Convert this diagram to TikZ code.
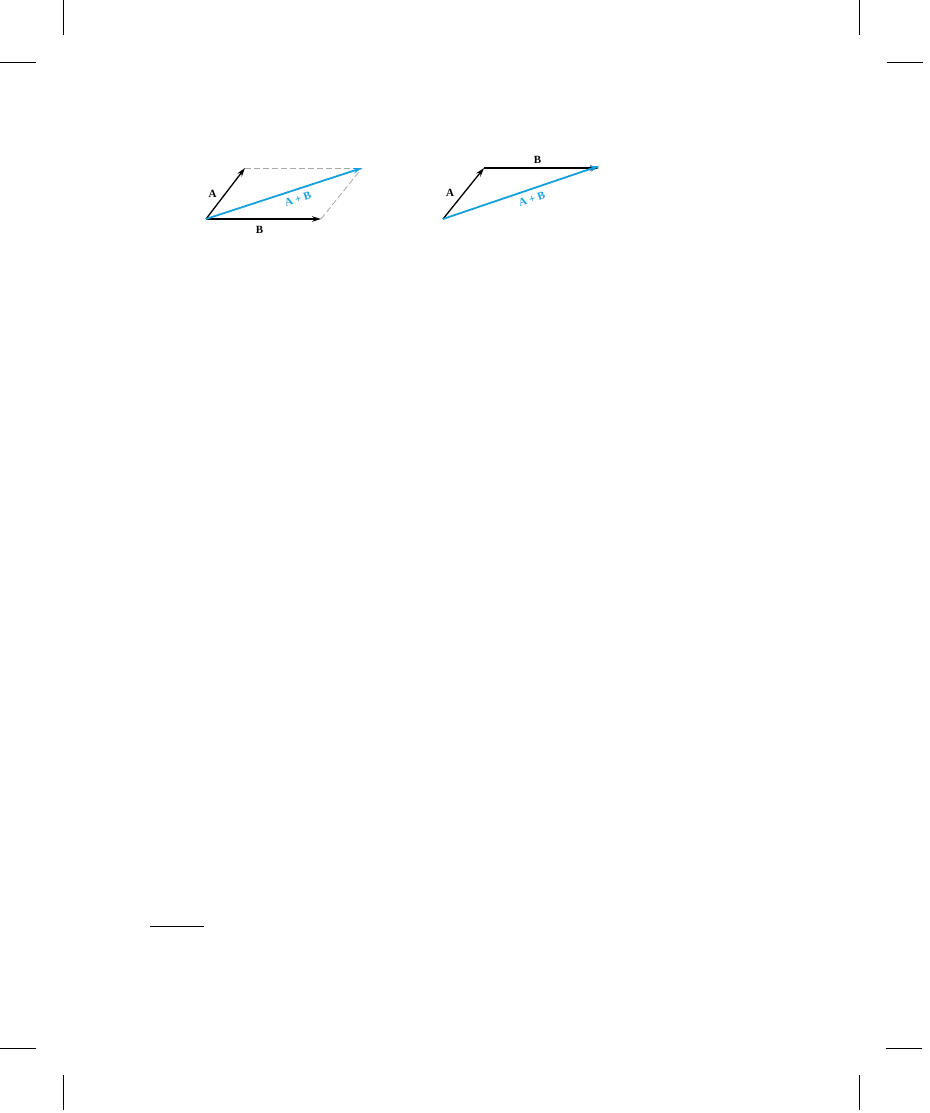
\documentclass[tikz,border=0pt]{standalone}
\usepackage{fontspec}
\setmainfont{Liberation Serif}
\usetikzlibrary{arrows.meta}

\definecolor{sumblue}{RGB}{20,160,220}

\tikzset{
  vec/.style = {line width = 1.3pt, -{Stealth[length = 9pt, width = 5.5pt]}},
  sumvec/.style = {vec, line width = 1.8pt, draw = sumblue},
  guide/.style = {draw = black!35, dash pattern = on 6pt off 3pt, line width = 0.8pt},
  lab/.style = {font = \fontsize{11}{12}\selectfont\bfseries, inner sep = 1pt},
  crop/.style = {line width = 1pt}
}

\begin{document}
\begin{tikzpicture}[x = 1pt, y = -1pt]
\useasboundingbox (0,0) rectangle (929,1113);

% crop marks
\draw[crop] (63,0) -- (63,35);
\draw[crop] (0,63) -- (36,63);
\draw[crop] (859.5,0) -- (859.5,35);
\draw[crop] (887,63) -- (923,63);
\draw[crop] (0,1048) -- (36,1048);
\draw[crop] (63,1075) -- (63,1110);
\draw[crop] (886,1048) -- (922,1048);
\draw[crop] (859.5,1075) -- (859.5,1110);

% footnote rule
\draw[crop] (150,926) -- (204,926);

% parallelogram rule
\coordinate (o1) at (206,219);
\coordinate (a1) at (245,168);
\coordinate (b1) at (321,219);
\coordinate (s1) at (362,168);

\draw[guide] (a1) -- (s1);
\draw[guide] (b1) -- (s1);
\draw[vec] (o1) -- (a1);
\draw[vec] (o1) -- (b1);
\draw[sumvec] (o1) -- (s1)
  node[lab, text = sumblue, pos = 0.57, sloped, below = 4pt] (s1lab) {A + B};

\node[lab] (a1lab) at (212.5,194) {A};
\node[lab] (b1lab) at (259.5,230) {B};

% triangle rule
\coordinate (o2) at (443,219);
\coordinate (a2) at (484,168);
\coordinate (b2) at (599,168);

\draw[vec] (o2) -- (a2);
\draw[vec, line width = 1.1pt] (a2) -- (b2);
\draw[sumvec] (o2) -- ([yshift = 2pt]b2)
  node[lab, text = sumblue, pos = 0.55, sloped, below = 4pt] (s2lab) {A + B};

\node[lab] (a2lab) at (450,193) {A};
\node[lab] (b2lab) at (537.5,160) {B};

\end{tikzpicture}
\end{document}
